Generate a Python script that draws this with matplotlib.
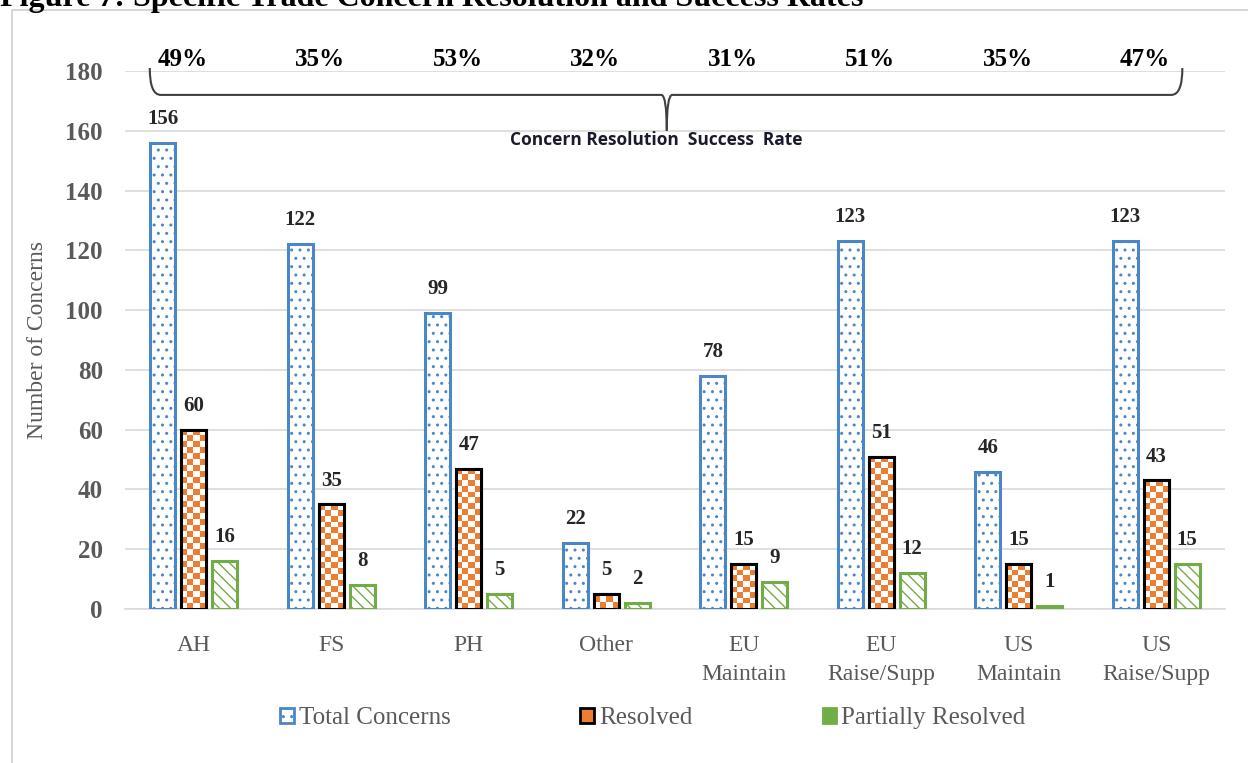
import matplotlib
matplotlib.use('Agg')
import matplotlib.pyplot as plt
from matplotlib.path import Path
from matplotlib.patches import PathPatch, Rectangle, Patch
import numpy as np

categories = ['AH', 'FS', 'PH', 'Other', 'EU\nMaintain', 'EU\nRaise/Supp', 'US\nMaintain', 'US\nRaise/Supp']
total = [156, 122, 99, 22, 78, 123, 46, 123]
resolved = [60, 35, 47, 5, 15, 51, 15, 43]
partial = [16, 8, 5, 2, 9, 12, 1, 15]
success = ['49%', '35%', '53%', '32%', '31%', '51%', '35%', '47%']

serif = 'Liberation Serif'
grey = '#595959'
blue = '#4A86C8'
orange = '#ED7D31'
green = '#70AD47'

plt.rcParams['hatch.linewidth'] = 1.0

fig = plt.figure(figsize=(12.48, 7.63), dpi=100)
ax = fig.add_axes([125/1248, 154/763, 1100/1248, 538/763])

# frame around the chart and cut-off caption
fig.patches.append(Rectangle((12/1248, -0.01), 1.0, 1 - 10/763 + 0.01,
                             transform=fig.transFigure, fill=False,
                             edgecolor='#D0D0D0', lw=1.2))
fig.text(0.0, 1 - 6/763, 'Figure 7: Specific Trade Concern Resolution and Success Rates',
         family=serif, weight='bold', fontsize=23, va='baseline', ha='left')

x = np.arange(len(categories))
w = 0.18
off = 0.225

b1 = ax.bar(x - off, total, w, facecolor='white', edgecolor=blue, lw=2.2,
            hatch='..', zorder=3, label='Total Concerns')
b2 = ax.bar(x, resolved, w, facecolor=orange, edgecolor='black', lw=2.2,
            zorder=3, label='Resolved')
b3 = ax.bar(x + off, partial, w, facecolor='white', edgecolor=green, lw=2.2,
            hatch='\\\\\\', zorder=3, label='Partially Resolved')
for p in b1:
    p._hatch_color = matplotlib.colors.to_rgba(blue)
for p in b3:
    p._hatch_color = matplotlib.colors.to_rgba(green)

# checker pattern on resolved bars
for p, v in zip(b2, resolved):
    nr = max(int(round(v / 2.0)), 1)
    chk = (np.indices((nr, 4)).sum(axis=0) % 2)
    im = ax.imshow(chk, cmap=matplotlib.colors.ListedColormap(['white', orange]),
                   extent=(p.get_x(), p.get_x() + p.get_width(), 0, v),
                   aspect='auto', interpolation='nearest', zorder=3.5, origin='lower')
    im.set_clip_path(p)
    edge = Rectangle((p.get_x(), 0), p.get_width(), v, fill=False,
                     edgecolor='black', lw=2.2, zorder=4)
    ax.add_patch(edge)

for bars, vals in [(b1, total), (b2, resolved), (b3, partial)]:
    for p, v in zip(bars, vals):
        ax.annotate(str(v), (p.get_x() + p.get_width() / 2, v), xytext=(0, 10),
                    textcoords='offset points', ha='center', va='bottom',
                    family=serif, weight='bold', fontsize=15, color='#262626')

ax.set_xlim(-0.5, len(categories) - 0.5)
ax.set_ylim(0, 180)
ax.set_yticks(range(0, 181, 20))
ax.set_xticks(x)
ax.set_xticklabels(categories, family=serif, fontsize=17, color=grey, linespacing=1.5)
ax.tick_params(axis='y', labelsize=18, labelcolor=grey, length=0, pad=16)
ax.tick_params(axis='x', length=0, pad=19)
for lab in ax.get_yticklabels():
    lab.set_family(serif)
    lab.set_weight('bold')
ax.set_ylabel('Number of Concerns', family=serif, fontsize=17, color=grey, labelpad=12)
ax.yaxis.grid(True, color='#D9D9D9', lw=1.2, zorder=0)
ax.set_axisbelow(True)
for s in ['top', 'right', 'left']:
    ax.spines[s].set_visible(False)
ax.spines['bottom'].set_color('#D9D9D9')
ax.spines['bottom'].set_linewidth(1.2)

# brace with success rates
xl, xr, xm = -0.32, 7.19, 3.44
yt, yh, ytip = 181, 172, 160
verts = [(xl, yt), (xl, yh), (xl + 0.08, yh),
         (xm - 0.04, yh), (xm, yh), (xm, ytip)]
codes = [Path.MOVETO, Path.CURVE3, Path.CURVE3,
         Path.LINETO, Path.CURVE3, Path.CURVE3]
verts2 = [(xr, yt), (xr, yh), (xr - 0.08, yh),
          (xm + 0.04, yh), (xm, yh), (xm, ytip)]
for vv in (verts, verts2):
    ax.add_patch(PathPatch(Path(vv, codes), fill=False, edgecolor='#404040',
                           lw=1.5, clip_on=False, zorder=5))
for xi, s in zip(x, success):
    ax.text(xi - 0.08, 184, s, ha='center', va='center', family=serif,
            weight='bold', fontsize=18, color='black', clip_on=False)
ax.text(3.36, 157, 'Concern Resolution  Success  Rate', ha='center', va='center',
        family='Open Sans', weight='bold', fontsize=12.5, color='#1a1a2e')

handles = [Patch(facecolor='white', edgecolor=blue, lw=2, hatch='..'),
           Patch(facecolor=orange, edgecolor='black', lw=2),
           Patch(facecolor=green, edgecolor=green, lw=2)]
fig.legend(handles, ['Total Concerns', 'Resolved', 'Partially Resolved'],
           loc='center', bbox_to_anchor=(0.523, 1 - 718/763), ncol=3, frameon=False,
           prop={'family': serif, 'size': 18}, labelcolor=grey,
           handlelength=0.55, handleheight=0.55, handletextpad=0.2, columnspacing=5.2)

fig.savefig('out.png', dpi=100)
